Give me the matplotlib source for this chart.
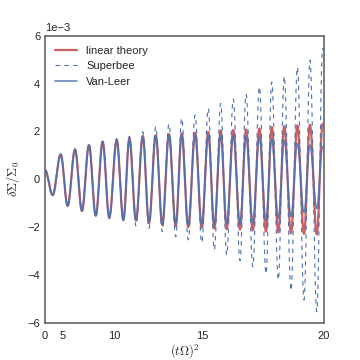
import numpy as np
import matplotlib
matplotlib.use('Agg')
import matplotlib.pyplot as plt
import seaborn as sns

sns.set_style('white')
plt.rcParams['font.family'] = ['Liberation Sans', 'DejaVu Sans']
plt.rcParams['mathtext.fontset'] = 'cm'

# positions of the turning points, in units of tOmega (start, extrema..., end)
t_ext = [0.0, 3.32, 4.74, 5.70, 6.56, 7.28, 7.94, 8.53, 9.09, 9.60, 10.14,
         10.60, 11.00, 11.42, 11.84, 12.21, 12.60, 12.97, 13.33, 13.69, 14.00,
         14.33, 14.67, 14.99, 15.30, 15.58, 15.87, 16.14, 16.43, 16.72, 16.98,
         17.26, 17.53, 17.80, 18.03, 18.29, 18.52, 18.78, 19.02, 19.27, 19.49,
         19.74, 19.95, 20.0]

# dSigma/Sigma0 at those points (units of 1e-3)
linear_theory = [0.39, -0.66, 1.04, -1.11, 1.25, -1.32, 1.43, -1.52, 1.56, -1.60, 1.64,
                 -1.70, 1.72, -1.72, 1.81, -1.84, 1.84, -1.91, 1.89, -1.96, 1.92,
                 -2.00, 1.95, -2.03, 1.98, -2.06, 2.04, -2.08, 2.06, -2.10, 2.08,
                 -2.14, 2.12, -2.18, 2.18, -2.22, 2.22, -2.25, 2.25, -2.28, 2.28,
                 -2.30, 2.32, 2.28]
superbee = [0.39, -0.66, 1.04, -1.11, 1.25, -1.32, 1.45, -1.55, 1.60, -1.65, 1.70,
            -1.78, 1.80, -1.95, 1.99, -2.05, 2.20, -2.19, 2.31, -2.40, 2.55,
            -2.53, 2.68, -2.65, 2.96, -2.95, 3.17, -3.16, 3.35, -3.40, 3.55,
            -3.65, 3.86, -3.95, 4.07, -4.20, 4.31, -4.65, 4.68, -5.04, 4.98,
            -5.53, 5.47, 5.30]
van_leer = [0.39, -0.66, 1.04, -1.11, 1.25, -1.32, 1.43, -1.52, 1.56, -1.60, 1.64,
            -1.68, 1.70, -1.70, 1.78, -1.80, 1.80, -1.85, 1.84, -1.88, 1.85,
            -1.90, 1.85, -1.90, 1.82, -1.88, 1.85, -1.85, 1.82, -1.85, 1.80,
            -1.80, 1.75, -1.72, 1.70, -1.63, 1.62, -1.56, 1.50, -1.38, 1.43,
            -1.22, 1.36, 1.30]


def wave(t_pts, y_pts, n=30):
    # join turning points with half-cosine arcs, evenly in (t Omega)^2
    u_pts = np.asarray(t_pts) ** 2
    xs, ys = [], []
    for i in range(len(u_pts) - 1):
        s = np.linspace(0, 1, n, endpoint=False)
        xs.append(u_pts[i] + (u_pts[i + 1] - u_pts[i]) * s)
        ys.append(y_pts[i] + (y_pts[i + 1] - y_pts[i]) * (1 - np.cos(np.pi * s)) / 2)
    xs.append([u_pts[-1]])
    ys.append([y_pts[-1]])
    return np.sqrt(np.concatenate(xs)), np.concatenate(ys) * 1e-3


fig = plt.figure(figsize=(3.6, 3.6), dpi=100)
ax = fig.add_axes([0.125, 0.103, 0.775, 0.798])

red = '#C44E52'
blue = '#4C72B0'

x, y = wave(t_ext, linear_theory)
ax.plot(x, y, color=red, lw=1.6, alpha=0.9, label='linear theory')
x, y = wave(t_ext, superbee)
ax.plot(x, y, color=blue, lw=0.8, ls='--', dashes=(4, 4), label='Superbee')
x, y = wave(t_ext, van_leer)
ax.plot(x, y, color=blue, lw=1.2, alpha=0.85, label='Van-Leer')

ax.set_xscale('function', functions=(lambda v: np.sign(v) * v ** 2,
                                     lambda v: np.sqrt(np.abs(v))))
ax.set_xlim(0, 20)
ax.set_ylim(-0.006, 0.006)
ax.set_xticks([0, 5, 10, 15, 20])
ax.set_yticks([-0.006, -0.004, -0.002, 0, 0.002, 0.004, 0.006])
ax.ticklabel_format(axis='y', style='sci', scilimits=(0, 0))
ax.yaxis.get_offset_text().set_fontsize(8)
ax.tick_params(labelsize=8, colors='0.15', length=0)
ax.tick_params(axis='x', pad=6)

for sp in ax.spines.values():
    sp.set_color('0.4')
    sp.set_linewidth(1.2)

ax.set_xlabel(r'$(t\Omega)^2$', fontsize=9, labelpad=1)
ax.set_ylabel(r'$\delta\Sigma/\Sigma_0$', fontsize=9)
ax.legend(loc='upper left', frameon=False, fontsize=8, handlelength=2.0)

fig.savefig('out.png', dpi=100)
